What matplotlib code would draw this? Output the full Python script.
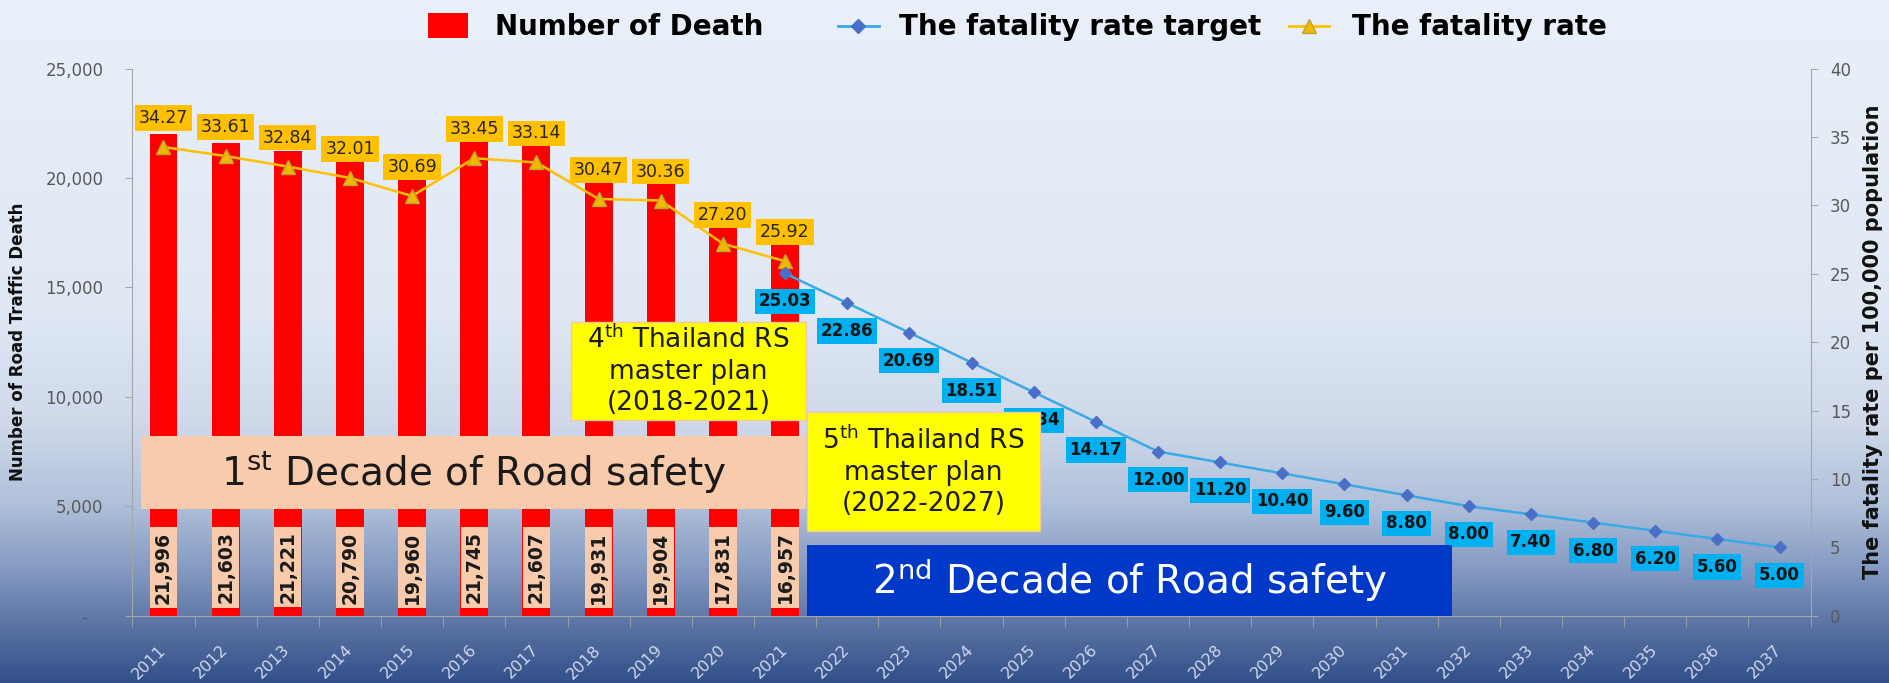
import numpy as np
import matplotlib
matplotlib.use("Agg")
import matplotlib.pyplot as plt
from matplotlib.colors import LinearSegmentedColormap
from matplotlib.patches import Rectangle, Patch
from matplotlib.lines import Line2D

# ---------------- data ----------------
years = ["2011", "2012", "2013", "2014", "2015", "2016", "2017", "2018", "2019",
         "2020", "2021", "2022", "2023", "2024", "2025", "2026", "2027", "2028",
         "2029", "2030", "2031", "2032", "2033", "2034", "2035", "2036", "2037"]
death_years = ["2011", "2012", "2013", "2014", "2015", "2016", "2017", "2018",
               "2019", "2020", "2021"]
deaths = [21996, 21603, 21221, 20790, 19960, 21745, 21607, 19931, 19904, 17831, 16957]
rate = [34.27, 33.61, 32.84, 32.01, 30.69, 33.45, 33.14, 30.47, 30.36, 27.20, 25.92]
target_years = ["2021", "2022", "2023", "2024", "2025", "2026", "2027", "2028",
                "2029", "2030", "2031", "2032", "2033", "2034", "2035", "2036", "2037"]
target = [25.03, 22.86, 20.69, 18.51, 16.34, 14.17, 12.00, 11.20, 10.40, 9.60,
          8.80, 8.00, 7.40, 6.80, 6.20, 5.60, 5.00]
left_ticks = [0, 5000, 10000, 15000, 20000, 25000]
left_tick_labels = ["-   ", "5,000", "10,000", "15,000", "20,000", "25,000"]
right_ticks = [0, 5, 10, 15, 20, 25, 30, 35, 40]

plt.rcParams["font.family"] = ["DejaVu Sans"]
plt.rcParams["mathtext.fontset"] = "dejavusans"

fig = plt.figure(figsize=(18.89, 6.83), dpi=100)

# ---------------- background gradient ----------------
bg = fig.add_axes([0, 0, 1, 1], zorder=-10)
stops = [(0.0, "#e9f0f9"), (0.45, "#e0e8f4"), (0.62, "#cfd9ea"), (0.74, "#b0c0da"),
         (0.84, "#8298c0"), (0.91, "#5f77a7"), (1.0, "#33508a")]
cmap = LinearSegmentedColormap.from_list("bg", stops)
grad = np.linspace(0, 1, 600).reshape(-1, 1)
bg.imshow(grad, aspect="auto", cmap=cmap, extent=[0, 1, 0, 1], origin="upper")
bg.axis("off")

# ---------------- main axes ----------------
ax = fig.add_axes([0.0701, 0.0987, 0.8884, 0.8007])
ax.set_facecolor("none")
x = np.arange(len(years))
xd = np.array([years.index(y) for y in death_years])
xt = np.array([years.index(y) for y in target_years])

ax.bar(xd, deaths, width=0.45, color="#ff0000", zorder=2)
ax.set_xlim(-0.5, 26.5)
ax.set_ylim(0, 25000)

for xi, v in zip(xd, deaths):
    ax.text(xi, 2200, f"{v:,}", rotation=90, ha="center", va="center",
            fontsize=13.5, fontweight="bold", color="#1a1a1a", zorder=3,
            bbox=dict(boxstyle="square,pad=0.22", fc="#f8cbad", ec="none"))

ax.set_xticks(x)
ax.set_xticklabels(years, rotation=45, ha="right", va="center",
                   rotation_mode="anchor", color="#d0d8ea", fontsize=11.5)
ax.tick_params(axis="x", which="major", length=0, pad=23)
ax.set_xticks(np.arange(-0.5, 27, 1), minor=True)
ax.tick_params(axis="x", which="minor", length=8, color="#a6a6a6")
ax.set_yticks(left_ticks)
ax.set_yticklabels(left_tick_labels)
ax.tick_params(axis="y", length=5, color="#a6a6a6", labelcolor="#595959",
               labelsize=12, pad=16)
for s in ["top", "right"]:
    ax.spines[s].set_visible(False)
for s in ["left", "bottom"]:
    ax.spines[s].set_color("#a6a6a6")
ax.set_ylabel("Number of Road Traffic Death", fontsize=12, fontweight="bold",
              color="#111111")
ax.yaxis.set_label_coords(-0.063, 0.5)

# ---------------- secondary axes ----------------
ax2 = ax.twinx()
ax2.set_ylim(0, 40)
ax2.set_yticks(right_ticks)
ax2.tick_params(axis="y", length=5, color="#a6a6a6", labelcolor="#595959",
                labelsize=12, pad=9)
for s in ["top", "left", "bottom"]:
    ax2.spines[s].set_visible(False)
ax2.spines["right"].set_color("#a6a6a6")
ax2.set_ylabel("The fatality rate per 100,000 population", fontsize=15,
               fontweight="bold", color="#111111")
ax2.yaxis.set_label_coords(1.031, 0.5)

ax2.plot(xd, rate, color="#ffc000", lw=1.8, marker="^", ms=10,
         mfc="#f0b800", mec="#b8a63a", zorder=4)
ax2.plot(xt, target, color="#3aaae6", lw=1.8, marker="D", ms=6,
         mfc="#4a6fc8", mec="#4a6fc8", zorder=4)

for xi, v in zip(xd, rate):
    ax2.annotate(f"{v:.2f}", (xi, v), xytext=(0, 29), textcoords="offset pixels",
                 ha="center", va="center", fontsize=12.5, color="#262626", zorder=6,
                 bbox=dict(boxstyle="square,pad=0.22", fc="#ffc000", ec="none"))
for xi, v in zip(xt, target):
    ax2.annotate(f"{v:.2f}", (xi, v), xytext=(0, -28), textcoords="offset pixels",
                 ha="center", va="center", fontsize=12, fontweight="bold",
                 color="#141414", zorder=6,
                 bbox=dict(boxstyle="square,pad=0.22", fc="#00b0f0", ec="none"))

# ---------------- annotation boxes ----------------
T = ax.transData
def box(x0, x1, y0, y1, fc, ec="none"):
    r = Rectangle((x0, y0), x1 - x0, y1 - y0, transform=T, fc=fc, ec=ec,
                  lw=1, zorder=7)
    ax2.add_patch(r)

box(-0.36, 10.34, 4850, 8200, "#f8cbad")
ax2.text(4.99, 6525, r"1$^{\mathrm{st}}$ Decade of Road safety", transform=T,
         ha="center", va="center", fontsize=28, color="#1a1a1a", zorder=8)

box(6.55, 10.34, 8940, 13440, "#ffff00", "#f4c7a0")
ax2.text(8.445, 11190, "4$^{\\mathrm{th}}$ Thailand RS\nmaster plan\n(2018-2021)",
         transform=T, ha="center", va="center", fontsize=19, color="#1a1a1a",
         linespacing=1.25, zorder=8)

box(10.36, 14.1, 3860, 9300, "#ffff00", "#f4c7a0")
ax2.text(12.23, 6580, "5$^{\\mathrm{th}}$ Thailand RS\nmaster plan\n(2022-2027)",
         transform=T, ha="center", va="center", fontsize=19, color="#1a1a1a",
         linespacing=1.25, zorder=8)

box(10.36, 20.73, 0, 3220, "#0038c8")
ax2.text(15.55, 1610, r"2$^{\mathrm{nd}}$ Decade of Road safety", transform=T,
         ha="center", va="center", fontsize=28, color="white", zorder=8)
ax2.set_ylim(0, 40)

# ---------------- legend ----------------
fs = 20
h1 = Patch(fc="#ff0000", ec="none")
h2 = Line2D([], [], color="#3aaae6", lw=2, marker="D", ms=7, mfc="#4a6fc8", mec="#4a6fc8")
h3 = Line2D([], [], color="#ffc000", lw=2, marker="^", ms=10, mfc="#f0b800", mec="#b8a63a")
common = dict(frameon=False, loc="center left", borderpad=0, borderaxespad=0,
              prop={"weight": "bold", "size": fs})
fig.legend([h1], ["Number of Death"], bbox_to_anchor=(0.2266, 0.960),
           handlelength=1.44, handleheight=1.0, handletextpad=0.97, **common)
fig.legend([h2], ["The fatality rate target"], bbox_to_anchor=(0.4436, 0.960),
           handlelength=1.47, handletextpad=0.72, **common)
fig.legend([h3], ["The fatality rate"], bbox_to_anchor=(0.6824, 0.960),
           handlelength=1.44, handletextpad=0.83, **common)

fig.savefig("out.png", dpi=100)
